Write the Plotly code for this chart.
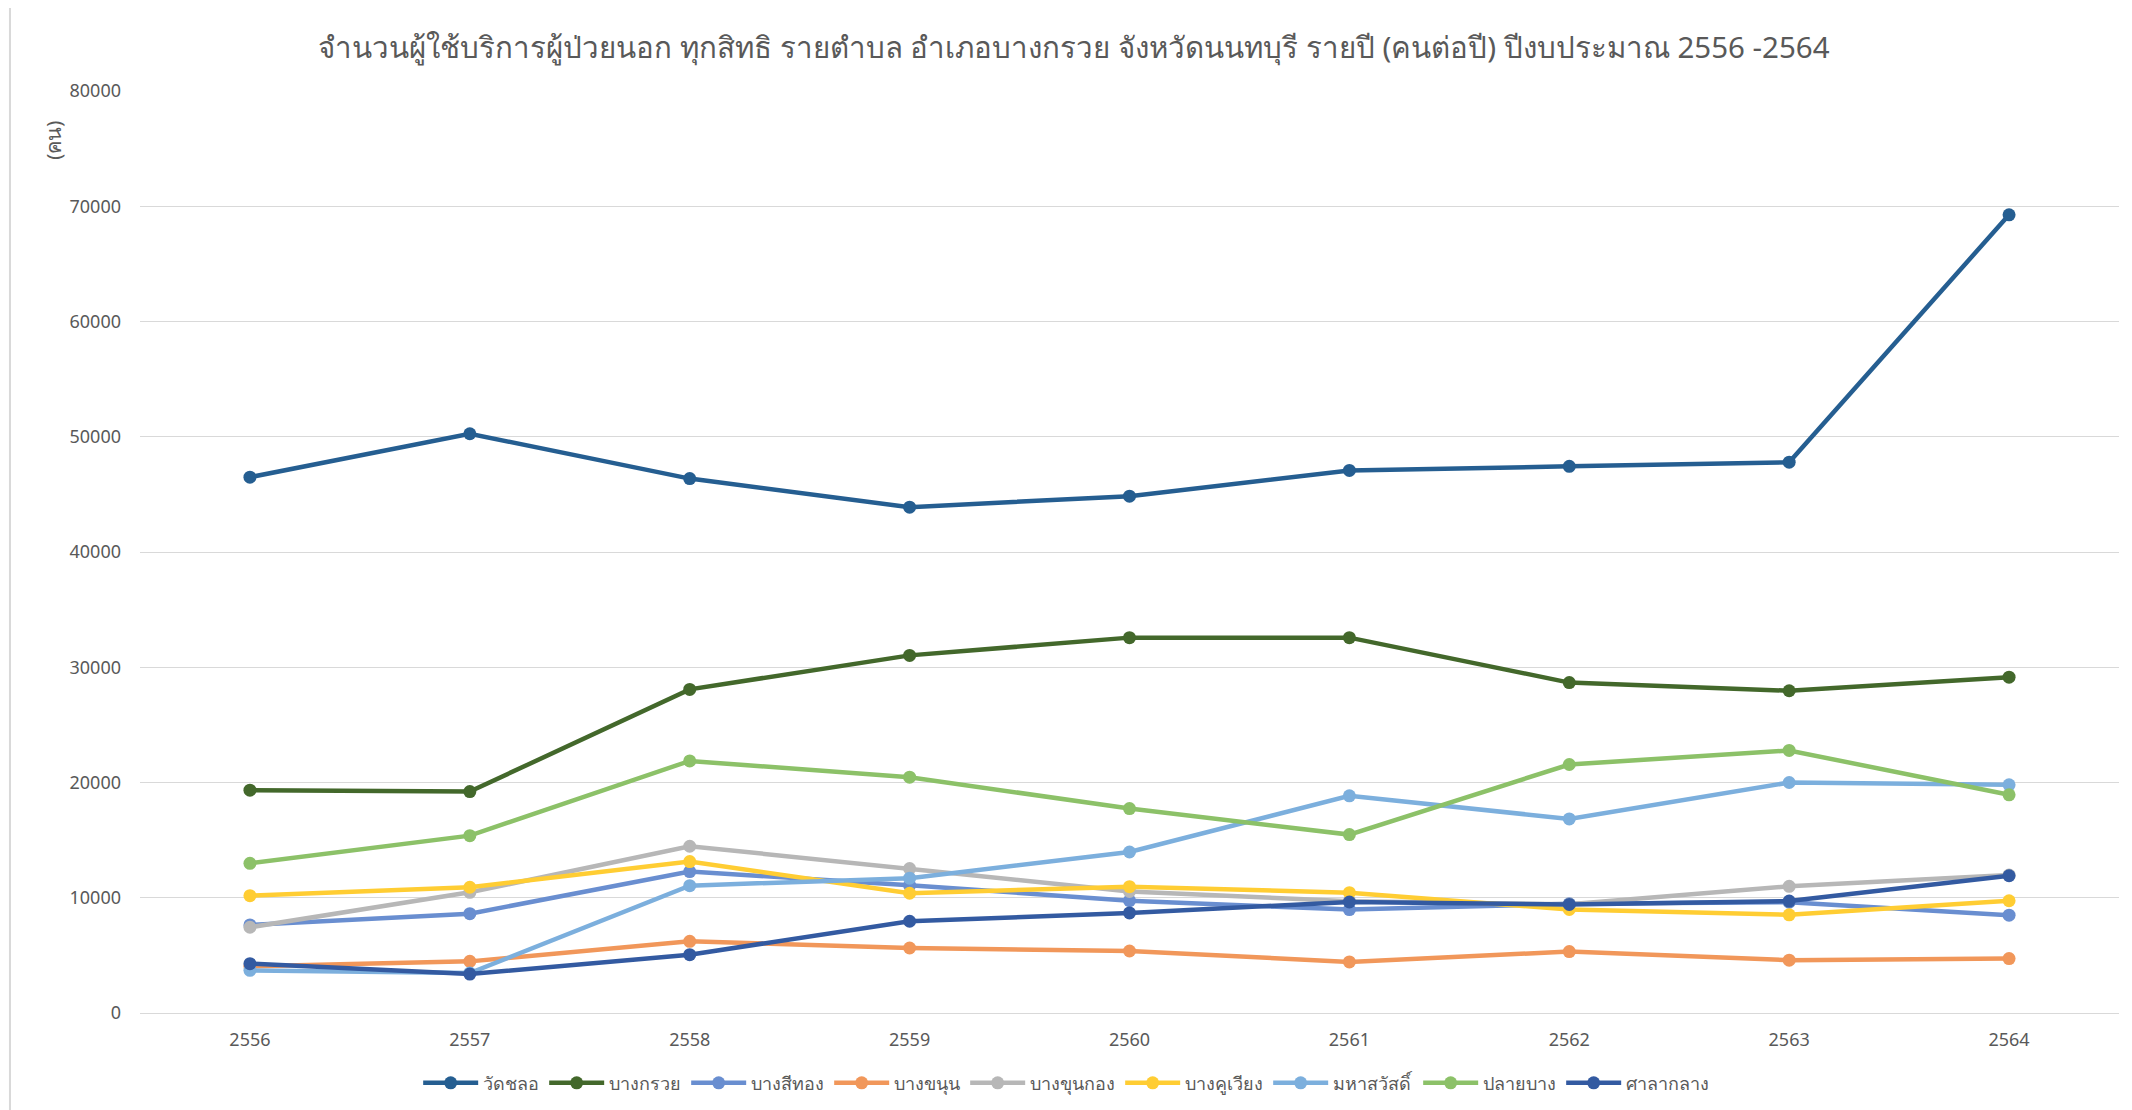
import plotly.graph_objects as go

years = ["2556", "2557", "2558", "2559", "2560", "2561", "2562", "2563", "2564"]

wat_chalo = [46490, 50260, 46370, 43890, 44840, 47080, 47430, 47790, 69260]
bang_kruai = [19330, 19210, 28080, 31030, 32570, 32570, 28670, 27960, 29140]
bang_si_thong = [7640, 8620, 12270, 11080, 9750, 8970, 9480, 9620, 8490]
bang_khanun = [4050, 4480, 6220, 5640, 5380, 4430, 5330, 4580, 4720]
bang_khun_kong = [7440, 10470, 14470, 12530, 10550, 9700, 9430, 10990, 11970]
bang_khu_wiang = [10180, 10910, 13140, 10390, 10960, 10440, 8980, 8520, 9740]
maha_sawat = [3700, 3470, 11050, 11700, 13970, 18840, 16840, 20000, 19800]
plai_bang = [12990, 15390, 21870, 20460, 17740, 15480, 21560, 22780, 18930]
sala_klang = [4280, 3380, 5060, 7960, 8680, 9630, 9420, 9710, 11910]

series = [
    ("วัดชลอ", wat_chalo, "#255E91"),
    ("บางกรวย", bang_kruai, "#43682B"),
    ("บางสีทอง", bang_si_thong, "#698ED0"),
    ("บางขนุน", bang_khanun, "#F1975A"),
    ("บางขุนกอง", bang_khun_kong, "#B7B7B7"),
    ("บางคูเวียง", bang_khu_wiang, "#FFCD33"),
    ("มหาสวัสดิ์", maha_sawat, "#7CAFDD"),
    ("ปลายบาง", plai_bang, "#8CC168"),
    ("ศาลากลาง", sala_klang, "#335AA1"),
]

fig = go.Figure()
for name, vals, color in series:
    fig.add_trace(go.Scatter(
        x=years, y=vals, name=name, mode="lines+markers",
        line=dict(color=color, width=4.5),
        marker=dict(color=color, size=13),
    ))

fig.update_layout(
    width=2132, height=1110,
    paper_bgcolor="white", plot_bgcolor="white",
    font=dict(family="Noto Sans, sans-serif", color="#595959", size=18),
    title=dict(
        text="จำนวนผู้ใช้บริการผู้ป่วยนอก ทุกสิทธิ รายตำบล อำเภอบางกรวย จังหวัดนนทบุรี รายปี (คนต่อปี) ปีงบประมาณ 2556 -2564",
        x=0.5, xanchor="center", y=0.964, yanchor="middle",
        font=dict(size=29.5, color="#595959"),
    ),
    margin=dict(l=132, r=21, t=83, b=105),   #page adds 8px on top/left
    legend=dict(
        orientation="h", x=0.468, xanchor="center", y=-0.056, yanchor="top",
        font=dict(size=18, color="#595959"),
        itemwidth=55,
    ),
    showlegend=True,
)

fig.update_xaxes(
    type="category", range=[-0.5, 8.5],
    showgrid=False, showline=False, ticks="",
    ticklabelstandoff=14,
    tickfont=dict(size=18, color="#595959"),
)
fig.update_yaxes(
    range=[0, 80000], dtick=10000,
    showgrid=True, gridcolor="#D9D9D9", gridwidth=1,
    zeroline=True, zerolinecolor="#D9D9D9", zerolinewidth=1,
    showline=False, ticks="", ticklabelstandoff=18,
    tickformat="d",
    tickfont=dict(size=18, color="#595959"),
)

#y axis title sits near the top like the original
fig.add_annotation(
    text="(คน)", textangle=-90, xref="paper", yref="paper",
    x=-0.0435, y=0.947, xanchor="center", yanchor="middle",
    showarrow=False, font=dict(size=20, color="#595959"),
)

#chart border on the left
fig.add_shape(type="line", xref="paper", yref="paper",
              x0=-0.0657, x1=-0.0657, y0=-0.12, y1=1.1,
              line=dict(color="#D9D9D9", width=2))

fig.write_html("out.html")
